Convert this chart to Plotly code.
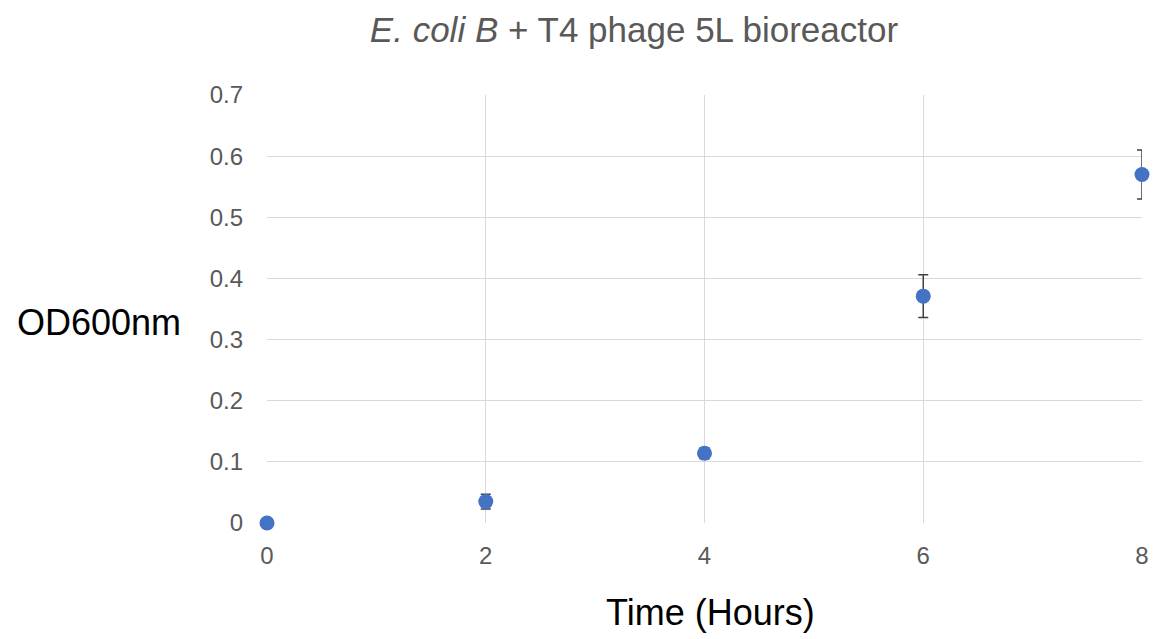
import plotly.graph_objects as go

# Time points (hours) and measured optical density at 600 nm
time_h = [0, 2, 4, 6, 8]
od600 = [0.0, 0.035, 0.114, 0.371, 0.570]
od_err = [0.0, 0.012, 0.009, 0.035, 0.040]

x_ticks = [0, 2, 4, 6, 8]
y_ticks = [0, 0.1, 0.2, 0.3, 0.4, 0.5, 0.6, 0.7]
y_tick_text = ["0", "0.1", "0.2", "0.3", "0.4", "0.5", "0.6", "0.7"]

FONT = "Liberation Sans, Arial, sans-serif"
GRID = "#d9d9d9"
TICK = "#595959"

W, H = 1161, 639
L, R, T, B = 267, 17, 95, 116
PW, PH = W - L - R, H - T - B

fig = go.Figure()
fig.add_trace(go.Scatter(
    x=time_h, y=od600,
    mode="markers",
    marker=dict(color="#4472c4", size=15, line=dict(width=0)),
    error_y=dict(type="data", array=od_err, visible=True,
                 color="#404040", thickness=1.5, width=5),
    cliponaxis=False,
    showlegend=False,
))

fig.update_layout(
    width=W, height=H,
    margin=dict(l=L, r=R, t=T, b=B),
    paper_bgcolor="white", plot_bgcolor="white",
    font=dict(family=FONT, color=TICK),
    title=dict(
        text="<i>E. coli B</i> + T4 phage 5L bioreactor",
        x=634 / W, xanchor="center", xref="container",
        y=1 - 30 / H, yanchor="middle", yref="container",
        font=dict(size=35, color=TICK, family=FONT),
    ),
    xaxis=dict(
        range=[0, 8], tickvals=x_ticks, ticktext=[str(t) for t in x_ticks],
        showgrid=True, gridcolor=GRID, gridwidth=1.3,
        zeroline=False, showline=False,
        ticks="", ticklabelstandoff=16,
        tickfont=dict(size=24, color=TICK),
    ),
    yaxis=dict(
        range=[0, 0.7], tickvals=y_ticks, ticktext=y_tick_text,
        showgrid=True, gridcolor=GRID, gridwidth=1.3,
        zeroline=False, showline=False,
        ticks="", ticklabelstandoff=23,
        tickfont=dict(size=24, color=TICK),
    ),
    annotations=[
        dict(
            text="OD600nm", xref="paper", yref="paper",
            x=(14 - L) / PW, y=(H - B - 322) / PH,
            xanchor="left", yanchor="middle", showarrow=False,
            font=dict(size=36, color="#000000", family=FONT),
        ),
        dict(
            text="Time (Hours)", xref="paper", yref="paper",
            x=(712 - L) / PW, y=(H - B - 612) / PH,
            xanchor="center", yanchor="middle", showarrow=False,
            font=dict(size=36, color="#000000", family=FONT),
        ),
    ],
)

fig.write_html("out.html")
